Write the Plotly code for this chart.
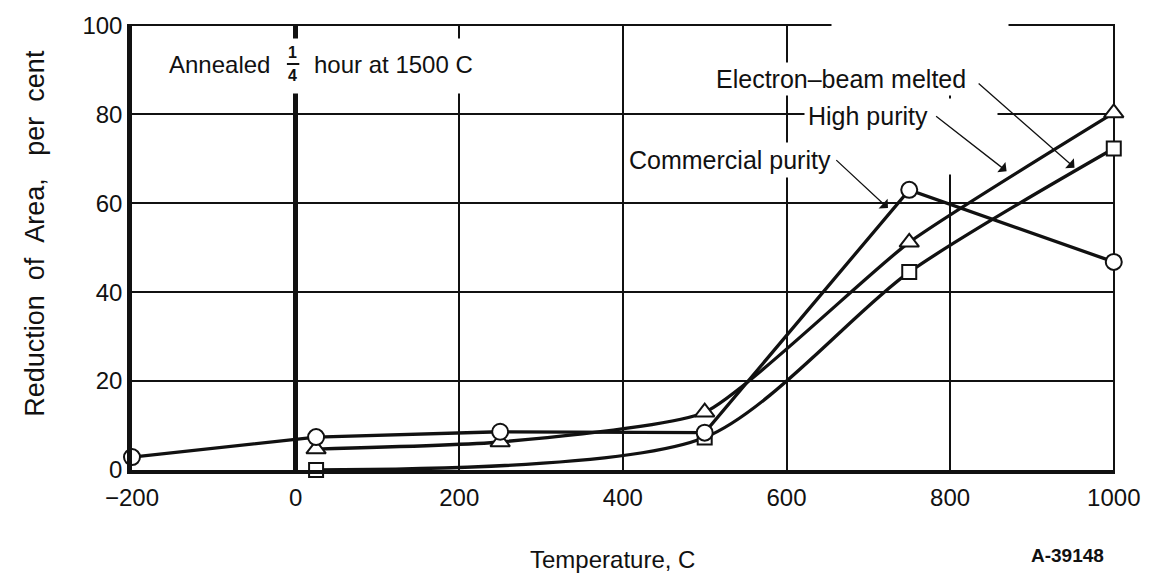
import plotly.graph_objects as go

# ---- data ----
comm_x = [-200, 25, 250, 500, 750, 1000]
comm_y = [2.9, 7.4, 8.6, 8.4, 63.0, 46.8]

high_x = [25, 250, 500, 750, 1000]
high_y = [4.7, 6.3, 13.0, 51.2, 80.3]

ebm_x = [25, 500, 750, 1000]
ebm_y = [0, 7.3, 44.5, 72.3]

x_ticks = [-200, 0, 200, 400, 600, 800, 1000]
y_ticks = [0, 20, 40, 60, 80, 100]

FONT = "Liberation Sans"
BLACK = "#111111"
nb = "\u00a0"

fig = go.Figure()

fig.add_trace(go.Scatter(
    x=ebm_x, y=ebm_y, mode="lines+markers", name="Electron-beam melted", cliponaxis=False,
    line=dict(color=BLACK, width=3.3, shape="spline", smoothing=0.75),
    marker=dict(symbol="square", size=14, color="white", line=dict(color=BLACK, width=2)),
))
fig.add_trace(go.Scatter(
    x=high_x, y=high_y, mode="lines+markers", name="High purity", cliponaxis=False,
    line=dict(color=BLACK, width=3.3, shape="spline", smoothing=0.5),
    marker=dict(symbol="triangle-up", size=17, color="white", line=dict(color=BLACK, width=2)),
))
fig.add_trace(go.Scatter(
    x=comm_x, y=comm_y, mode="lines+markers", name="Commercial purity", cliponaxis=False,
    line=dict(color=BLACK, width=3.3),
    marker=dict(symbol="circle", size=16, color="white", line=dict(color=BLACK, width=2)),
))

ann = []
tf = dict(family=FONT, size=25, color=BLACK)

# white boxes that break the grid behind the hand lettering (as in the original drawing)
def white_box(cx, cy, w, h):
    return dict(x=cx, y=cy, xref="x", yref="y", showarrow=False, text=nb,
                width=w, height=h, bgcolor="white", borderpad=0,
                xanchor="center", yanchor="middle", font=dict(size=6))

ann.append(white_box(43.7, 90.8, 345, 54))     # behind "Annealed 1/4 hour at 1500 C"
ann.append(white_box(763, 95.0, 176, 50))      # upper erased area near labels
ann.append(white_box(758, 75.0, 162, 75))      # lower erased area near labels

# "Annealed 1/4 hour at 1500 C"
ann.append(dict(x=-29.4, y=91.1, xref="x", yref="y", showarrow=False, text="Annealed",
                font=dict(family=FONT, size=24, color=BLACK), xanchor="right", yanchor="middle"))
ann.append(dict(x=20.5, y=91.1, xref="x", yref="y", showarrow=False,
                text="hour at 1500 C",
                font=dict(family=FONT, size=24, color=BLACK), xanchor="left", yanchor="middle"))
ann.append(dict(x=-4, y=93.9, xref="x", yref="y", showarrow=False, text="<b>1</b>",
                font=dict(family=FONT, size=16, color=BLACK), yanchor="middle"))
ann.append(dict(x=-4, y=88.7, xref="x", yref="y", showarrow=False, text="<b>4</b>",
                font=dict(family=FONT, size=16, color=BLACK), yanchor="middle"))
# fraction bar
ann.append(dict(x=4.5, y=91.3, ax=-12.5, ay=91.3, xref="x", yref="y", axref="x", ayref="y",
                text="", showarrow=True, arrowhead=0, arrowwidth=2, arrowcolor=BLACK,
                standoff=0, startstandoff=0))

# series labels
ann.append(dict(x=667, y=88.0, xref="x", yref="y", showarrow=False,
                text="Electron\u2013beam" + nb + "melted", font=tf, bgcolor="white", borderpad=2))
ann.append(dict(x=700, y=79.6, xref="x", yref="y", showarrow=False,
                text="High purity", font=tf, bgcolor="white", borderpad=3))
ann.append(dict(x=530.5, y=69.8, xref="x", yref="y", showarrow=False,
                text="Commercial purity", font=tf, bgcolor="white", borderpad=3))

# leader arrows (tail -> head)
for (tx, ty, hx, hy) in [(659, 70.0, 724, 58.9), (781, 79.8, 869, 67.2), (833, 87.2, 952, 68.0)]:
    ann.append(dict(x=hx, y=hy, ax=tx, ay=ty, xref="x", yref="y", axref="x", ayref="y",
                    text="", showarrow=True, arrowhead=1, arrowsize=1.7, arrowwidth=1.3,
                    arrowcolor=BLACK))

# axis titles / id
ann.append(dict(x=-0.0995, y=0.53, xref="paper", yref="paper", showarrow=False,
                text="Reduction" + nb * 2 + "of" + nb * 2 + "Area," + nb * 3 + "per" + nb * 2 + "cent",
                textangle=-90,
                font=dict(family=FONT, size=27, color=BLACK), xanchor="center", yanchor="middle"))
ann.append(dict(x=0.489, y=-0.2, xref="paper", yref="paper", showarrow=False,
                text="Temperature, C", font=dict(family=FONT, size=24, color=BLACK),
                xanchor="center", yanchor="middle"))
ann.append(dict(x=0.952, y=-0.191, xref="paper", yref="paper", showarrow=False,
                text="<b>A-39148</b>", font=dict(family=FONT, size=19, color=BLACK),
                xanchor="center", yanchor="middle"))

fig.update_layout(
    width=1152, height=581,
    margin=dict(l=132, r=34, t=19, b=111),
    paper_bgcolor="white", plot_bgcolor="white",
    showlegend=False,
    annotations=ann,
    font=dict(family=FONT, color=BLACK),
)
fig.update_xaxes(
    range=[-200, 1001.5], tickvals=x_ticks, ticks="", ticklabelstandoff=3,
    showgrid=True, gridcolor=BLACK, gridwidth=1.6,
    zeroline=True, zerolinecolor=BLACK, zerolinewidth=5,
    showline=True, linecolor=BLACK, linewidth=3.5, mirror=False,
    tickfont=dict(family=FONT, size=24, color=BLACK),
)
fig.update_yaxes(
    range=[0, 100.3], tickvals=y_ticks, ticks="",
    showgrid=True, gridcolor=BLACK, gridwidth=1.6,
    zeroline=False,
    showline=True, linecolor=BLACK, linewidth=4.5, mirror=False,
    tickfont=dict(family=FONT, size=24, color=BLACK),
)

fig.write_html("out.html")
